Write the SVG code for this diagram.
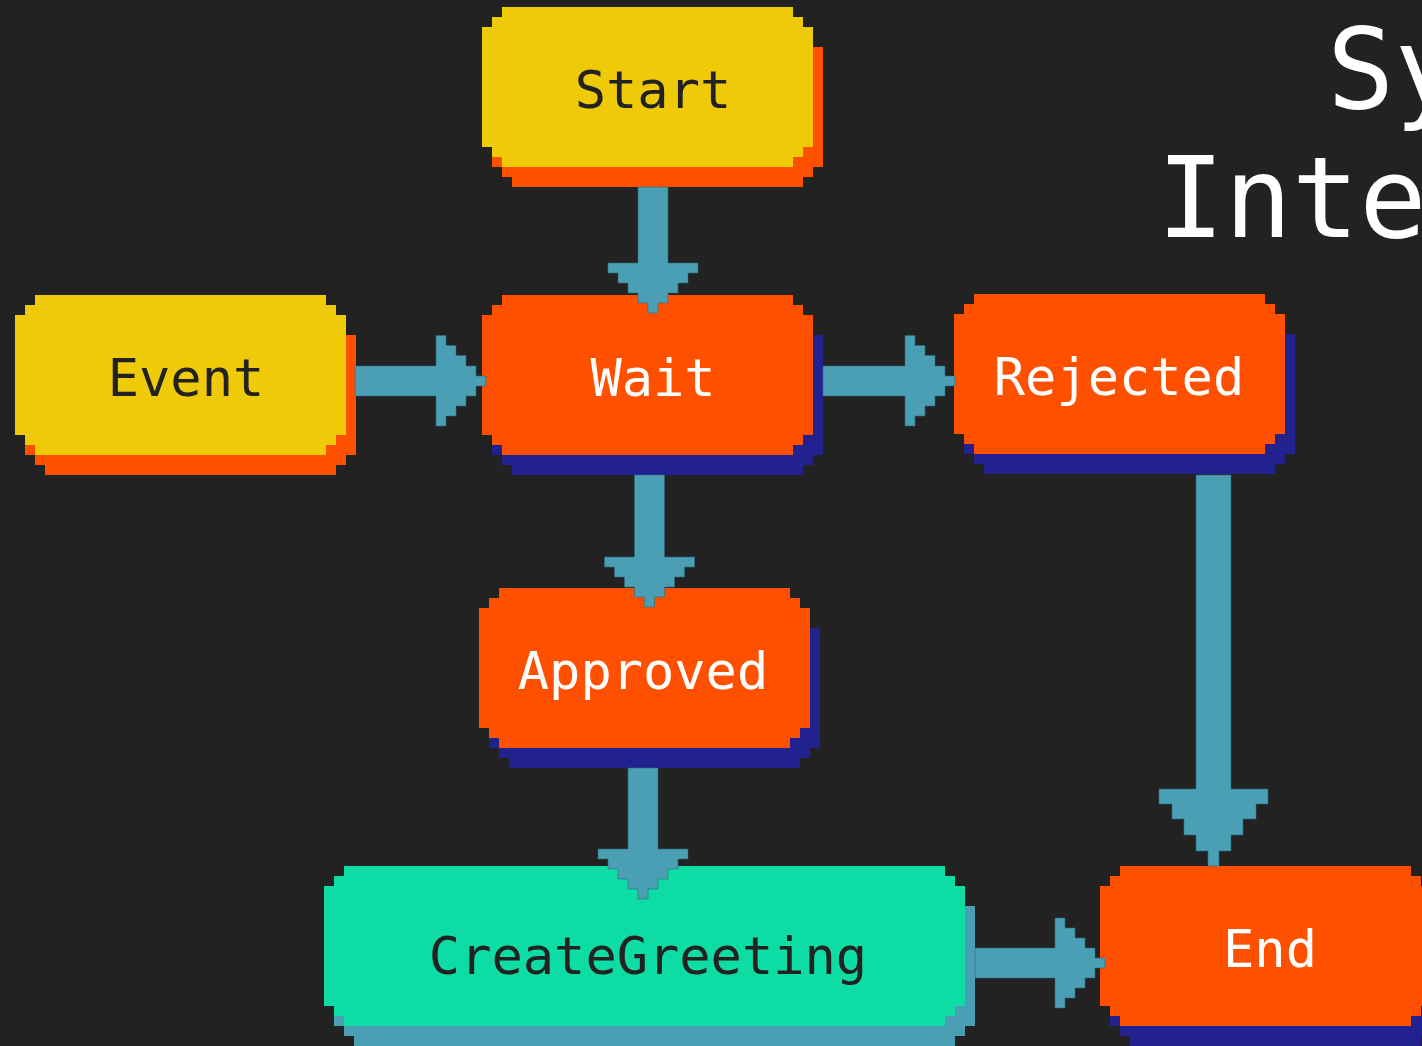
<svg xmlns="http://www.w3.org/2000/svg" xmlns:xlink="http://www.w3.org/1999/xlink" width="1422" height="1046" viewBox="0 0 1422 1046">
<style>
.lbl{font-family:"DejaVu Sans Mono","Liberation Mono",monospace;font-size:52px;text-anchor:middle}
.dark{fill:#222222}
.light{fill:#ffffff}
.title{font-family:"DejaVu Sans Mono","Liberation Mono",monospace;font-size:112px;fill:#ffffff}
.yellow{fill:#EFCA08}
.orange{fill:#FF5000}
.green{fill:#0DDDA4}
.navy{fill:#212190}
.blue{fill:#4A9FB5}
.arrow{fill:#4A9FB5;stroke:#2f6b7b;stroke-width:0.6}
</style>
<defs>
<path id="pill" d="M20,0H311V10H321V20H331V140H321V150H311V160H20V150H10V140H0V20H10V10H20Z"/>
<path id="pillw" d="M20,0H621V10H631V20H641V140H631V150H621V160H20V150H10V140H0V20H10V10H20Z"/>
</defs>
<rect width="1422" height="1046" fill="#222222"/>
<g id="title">
<text class="title" x="1327" y="108">Sy</text>
<text class="title" x="1157" y="237">Inte</text>
</g>
<g id="node-start">
<use xlink:href="#pill" x="492" y="27" class="orange"/>
<use xlink:href="#pill" x="482" y="7" class="yellow"/>
<text class="lbl dark" x="653" y="108">Start</text>
</g>
<g id="node-event">
<use xlink:href="#pill" x="25" y="315" class="orange"/>
<use xlink:href="#pill" x="15" y="295" class="yellow"/>
<text class="lbl dark" x="186" y="396">Event</text>
</g>
<g id="node-wait">
<use xlink:href="#pill" x="492" y="315" class="navy"/>
<use xlink:href="#pill" x="482" y="295" class="orange"/>
<text class="lbl light" x="653" y="396">Wait</text>
</g>
<g id="node-rejected">
<use xlink:href="#pill" x="964" y="314" class="navy"/>
<use xlink:href="#pill" x="954" y="294" class="orange"/>
<text class="lbl light" x="1119" y="395">Rejected</text>
</g>
<g id="node-approved">
<use xlink:href="#pill" x="489" y="608" class="navy"/>
<use xlink:href="#pill" x="479" y="588" class="orange"/>
<text class="lbl light" x="643" y="689">Approved</text>
</g>
<g id="node-creategreeting">
<use xlink:href="#pillw" x="334" y="886" class="blue"/>
<use xlink:href="#pillw" x="324" y="866" class="green"/>
<text class="lbl dark" x="648" y="974">CreateGreeting</text>
</g>
<g id="node-end">
<use xlink:href="#pill" x="1110" y="886" class="navy"/>
<use xlink:href="#pill" x="1100" y="866" class="orange"/>
<text class="lbl light" x="1270" y="967">End</text>
</g>
<g id="connectors">
<polygon class="arrow" points="638,187 668,187 668,263 698,263 698,273 688,273 688,283 678,283 678,293 668,293 668,303 658,303 658,313 648,313 648,303 638,303 638,293 628,293 628,283 618,283 618,273 608,273 608,263 638,263"/>
<polygon class="arrow" points="634.5,475 664.5,475 664.5,557 694.5,557 694.5,567 684.5,567 684.5,577 674.5,577 674.5,587 664.5,587 664.5,597 654.5,597 654.5,607 644.5,607 644.5,597 634.5,597 634.5,587 624.5,587 624.5,577 614.5,577 614.5,567 604.5,567 604.5,557 634.5,557"/>
<polygon class="arrow" points="628,768 658,768 658,849 688,849 688,859 678,859 678,869 668,869 668,879 658,879 658,889 648,889 648,899 638,899 638,889 628,889 628,879 618,879 618,869 608,869 608,859 598,859 598,849 628,849"/>
<polygon class="arrow" points="1196,475 1231,475 1231,789 1268,789 1268,804 1256,804 1256,819 1243,819 1243,835 1231,835 1231,851 1219,851 1219,866 1208,866 1208,851 1196,851 1196,835 1184,835 1184,819 1172,819 1172,804 1159,804 1159,789 1196,789"/>
<polygon class="arrow" points="355,366 436,366 436,335.5 446,335.5 446,345.5 456,345.5 456,355.5 466,355.5 466,366 476,366 476,376 486,376 486,386 476,386 476,396 466,396 466,406 456,406 456,416 446,416 446,426 436,426 436,396 355,396"/>
<polygon class="arrow" points="823,366 905,366 905,335.5 915,335.5 915,345.5 925,345.5 925,355.5 935,355.5 935,366 945,366 945,376 955,376 955,386 945,386 945,396 935,396 935,406 925,406 925,416 915,416 915,426 905,426 905,396 823,396"/>
<polygon class="arrow" points="975,948 1055,948 1055,918 1065,918 1065,928 1075,928 1075,938 1085,938 1085,948 1095,948 1095,958 1105,958 1105,968 1095,968 1095,978 1085,978 1085,988 1075,988 1075,998 1065,998 1065,1008 1055,1008 1055,978 975,978"/>
</g>
</svg>
